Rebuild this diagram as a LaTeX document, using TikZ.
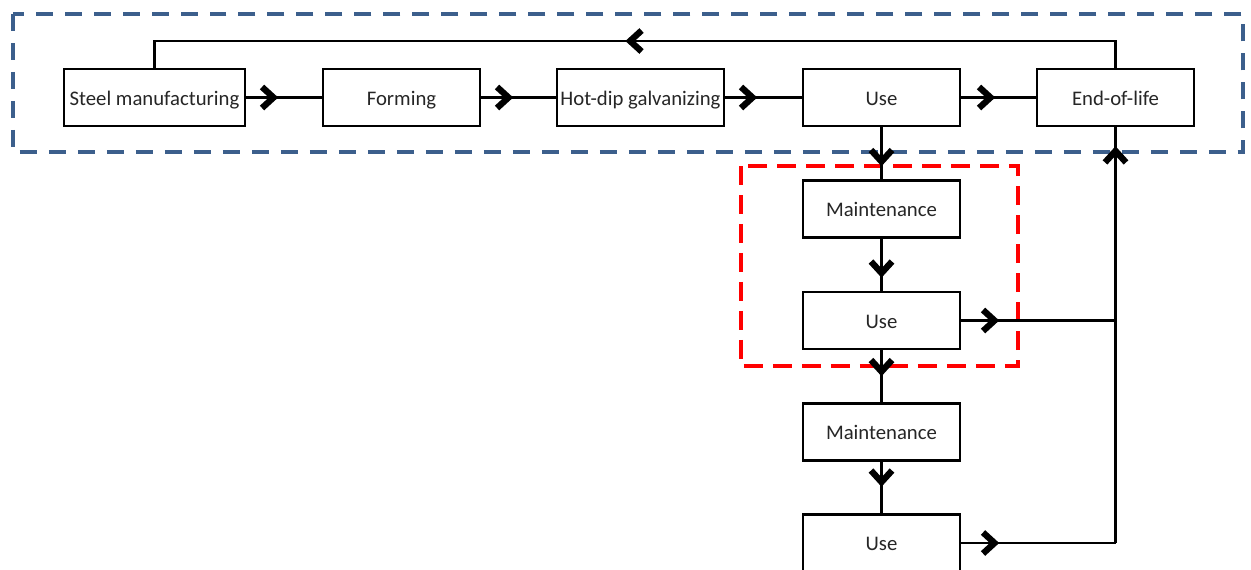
\documentclass[tikz,border=0pt]{standalone}
\usepackage{fontspec}
\setmainfont{Carlito}
\usetikzlibrary{arrows.meta,decorations.markings}
\definecolor{frameblue}{HTML}{3C5F8C}
\definecolor{framered}{HTML}{FF0000}
\definecolor{labelgray}{HTML}{262626}
\begin{document}
\begin{tikzpicture}[x=0.02cm,y=-0.02cm,
  box/.style={draw=black,line width=1.4pt,fill=white,minimum width=3.14cm,
    minimum height=1.14cm,inner sep=0pt,text=labelgray,
    text height=8.6pt,text depth=0pt,
    font=\fontsize{11.8}{14}\selectfont},
  link/.style={line width=1.3pt},
  chev/.tip={Straight Barb[length=0.23cm,width=0.42cm,line width=3.6pt,line join=miter,line cap=butt]},
  arrowat/.style={postaction={decorate},
    decoration={markings,mark=at position #1 with {\arrow{chev}}}},
  groupframe/.style={line width=2.3pt,dash pattern=on 0.34cm off 0.24cm},
]
\useasboundingbox (0,0) rectangle (1251,569);

% process chain
\node[box,minimum width=3.62cm] (steel) at (154.5,97.5) {Steel manufacturing};
\node[box] (form) at (401.5,97.5) {Forming};
\node[box,minimum width=3.34cm] (hdg) at (640.5,97.5) {Hot-dip galvanizing};
\node[box] (use1) at (881.5,97.5) {Use};
\node[box] (eol) at (1115.5,97.5) {End-of-life};
\node[box] (maint1) at (881.5,209) {Maintenance};
\node[box] (use2) at (881.5,320.5) {Use};
\node[box] (maint2) at (881.5,432) {Maintenance};
\node[box] (use3) at (881.5,543) {Use};

% junctions on the return line
\coordinate (j2) at (eol.south |- use2.east);
\coordinate (j3) at (eol.south |- use3.east);
\coordinate (topl) at (0,41);

% group frames
\draw[groupframe,draw=frameblue] (13,14) rectangle (1243,152);
\draw[groupframe,draw=framered,dash pattern=on 0.38cm off 0.2cm] (741,166) rectangle (1018,366);

% connectors
\draw[link,arrowat=0.64cm] (steel.east) -- (form.west);
\draw[link,arrowat=0.64cm] (form.east) -- (hdg.west);
\draw[link,arrowat=0.64cm] (hdg.east) -- (use1.west);
\draw[link,arrowat=0.68cm] (use1.east) -- (eol.west);
\draw[link,arrowat=0.78cm] (use1.south) -- (maint1.north);
\draw[link,arrowat=0.78cm] (maint1.south) -- (use2.north);
\draw[link,arrowat=0.52cm] (use2.south) -- (maint2.north);
\draw[link,arrowat=0.5cm] (maint2.south) -- (use3.north);
\draw[link,arrowat=0.76cm] (use2.east) -- (j2);
\draw[link,arrowat=0.76cm] (use3.east) -- (j3);
\draw[link,arrowat=-0.38cm] (j3) -- (eol.south);
\draw[link,arrowat=10.34cm] (eol.north) -- (eol.north |- topl) -- (steel.north |- topl) -- (steel.north);
\end{tikzpicture}
\end{document}
